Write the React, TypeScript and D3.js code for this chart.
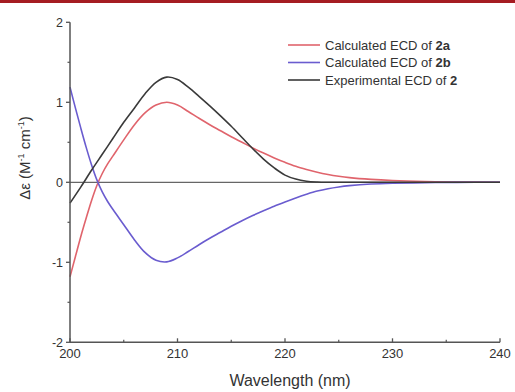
import React from "react";
import * as d3 from "d3";

const wlA = [200, 200.5, 201, 201.5, 202, 202.5, 203, 203.5, 204, 205, 206, 207, 208, 209, 210, 211, 212, 213, 214, 215, 216, 217, 218, 219, 220, 221, 222, 223, 224, 225, 226, 228, 230, 233, 236, 240];
const ecdA = [-1.18, -0.93, -0.68, -0.45, -0.23, -0.04, 0.11, 0.23, 0.33, 0.53, 0.72, 0.87, 0.965, 1.0, 0.965, 0.885, 0.8, 0.72, 0.645, 0.57, 0.5, 0.43, 0.365, 0.305, 0.25, 0.2, 0.16, 0.125, 0.097, 0.075, 0.058, 0.036, 0.022, 0.01, 0.004, 0];

const wlB = [200, 200.5, 201, 201.5, 202, 202.5, 203, 203.5, 204, 205, 206, 207, 208, 209, 210, 211, 212, 213, 214, 215, 216, 217, 218, 219, 220, 221, 222, 223, 224, 225, 226, 228, 230, 233, 236, 240];
const ecdB = [1.19, 0.93, 0.68, 0.44, 0.22, 0.03, -0.12, -0.24, -0.34, -0.53, -0.72, -0.88, -0.975, -0.995, -0.945, -0.865, -0.78, -0.7, -0.625, -0.55, -0.48, -0.415, -0.355, -0.3, -0.245, -0.195, -0.15, -0.11, -0.08, -0.058, -0.042, -0.022, -0.012, -0.005, -0.001, 0];

const wlExp = [200, 201, 202, 203, 204, 205, 206, 207, 208, 209, 210, 211, 212, 213, 214, 215, 216, 217, 218, 219, 220, 221, 222, 223, 224, 230, 240];
const ecdExp = [-0.26, -0.06, 0.15, 0.35, 0.55, 0.75, 0.93, 1.11, 1.25, 1.315, 1.285, 1.19, 1.075, 0.955, 0.83, 0.7, 0.56, 0.42, 0.29, 0.18, 0.09, 0.04, 0.013, 0.003, 0, 0, 0];

const xTicks = [200, 210, 220, 230, 240];
const yTicks = [-2, -1, 0, 1, 2];
const legendLabels = [
  { pre: "Calculated ECD of ", bold: "2a" },
  { pre: "Calculated ECD of ", bold: "2b" },
  { pre: "Experimental ECD of ", bold: "2" },
];

const colors = ["#e0646c", "#6a5ccf", "#3a3a3a"];

export default function App() {
  const W = 515, H = 392;
  const x = d3.scaleLinear().domain([200, 240]).range([70, 500]);
  const y = d3.scaleLinear().domain([-2, 2]).range([342.3, 22.3]);
  const line = d3.line<[number, number]>().x(d => x(d[0])).y(d => y(d[1])).curve(d3.curveCatmullRom.alpha(0.5));
  const series = [
    wlA.map((w, i) => [w, ecdA[i]] as [number, number]),
    wlB.map((w, i) => [w, ecdB[i]] as [number, number]),
    wlExp.map((w, i) => [w, ecdExp[i]] as [number, number]),
  ];
  const axisColor = "#555";
  const textColor = "#333";
  const font = "'Liberation Sans', Arial, sans-serif";
  const xMinor = d3.range(205, 240, 10);
  const yMinor = d3.range(-1.5, 2, 1);
  return (
    <svg width={W} height={H} style={{ position: "absolute", left: 0, top: 0 }} fontFamily={font}>
      <rect x={0} y={0} width={W} height={H} fill="#fff" />
      <rect x={0} y={0} width={W} height={3} fill="#a51c22" />
      <line x1={x(200)} x2={x(240)} y1={y(0)} y2={y(0)} stroke="#666" strokeWidth={1.3} />
      {series.map((s, i) => (
        <path key={i} d={line(s) || ""} fill="none" stroke={colors[i]} strokeWidth={1.6} />
      ))}
      <line x1={x(200)} x2={x(200)} y1={y(2)} y2={y(-2)} stroke={axisColor} strokeWidth={1.5} />
      <line x1={x(200)} x2={x(240)} y1={y(-2)} y2={y(-2)} stroke={axisColor} strokeWidth={1.5} />
      {yTicks.map(t => (
        <g key={"y" + t}>
          <line x1={x(200) - 4} x2={x(200)} y1={y(t)} y2={y(t)} stroke={axisColor} strokeWidth={1.3} />
          <text x={x(200) - 7} y={y(t)} dy="0.35em" textAnchor="end" fontSize={12.5} fill={textColor}>{t}</text>
        </g>
      ))}
      {yMinor.map(t => (
        <line key={"ym" + t} x1={x(200) - 2.5} x2={x(200)} y1={y(t)} y2={y(t)} stroke={axisColor} strokeWidth={1.2} />
      ))}
      {xTicks.map(t => (
        <g key={"x" + t}>
          <line x1={x(t)} x2={x(t)} y1={y(-2) - 4} y2={y(-2)} stroke={axisColor} strokeWidth={1.3} />
          <text x={x(t)} y={y(-2) + 16} textAnchor="middle" fontSize={13} fill={textColor}>{t}</text>
        </g>
      ))}
      {xMinor.map(t => (
        <line key={"xm" + t} x1={x(t)} x2={x(t)} y1={y(-2) - 2.5} y2={y(-2)} stroke={axisColor} strokeWidth={1.2} />
      ))}
      <text x={290} y={386} textAnchor="middle" fontSize={16} fill={textColor}>Wavelength (nm)</text>
      <text transform={`translate(30,158) rotate(-90)`} textAnchor="middle" fontSize={15} fill={textColor}>
        Δε (M<tspan dy={-6} fontSize={9}>-1</tspan><tspan dy={6}> cm</tspan><tspan dy={-6} fontSize={9}>-1</tspan><tspan dy={6}>)</tspan>
      </text>
      {legendLabels.map((l, i) => (
        <g key={"l" + i}>
          <line x1={288} x2={320} y1={45 + i * 17.5} y2={45 + i * 17.5} stroke={colors[i]} strokeWidth={1.6} />
          <text x={325} y={45 + i * 17.5} dy="0.35em" fontSize={13} fill={textColor}>
            {l.pre}<tspan fontWeight="bold">{l.bold}</tspan>
          </text>
        </g>
      ))}
    </svg>
  );
}
